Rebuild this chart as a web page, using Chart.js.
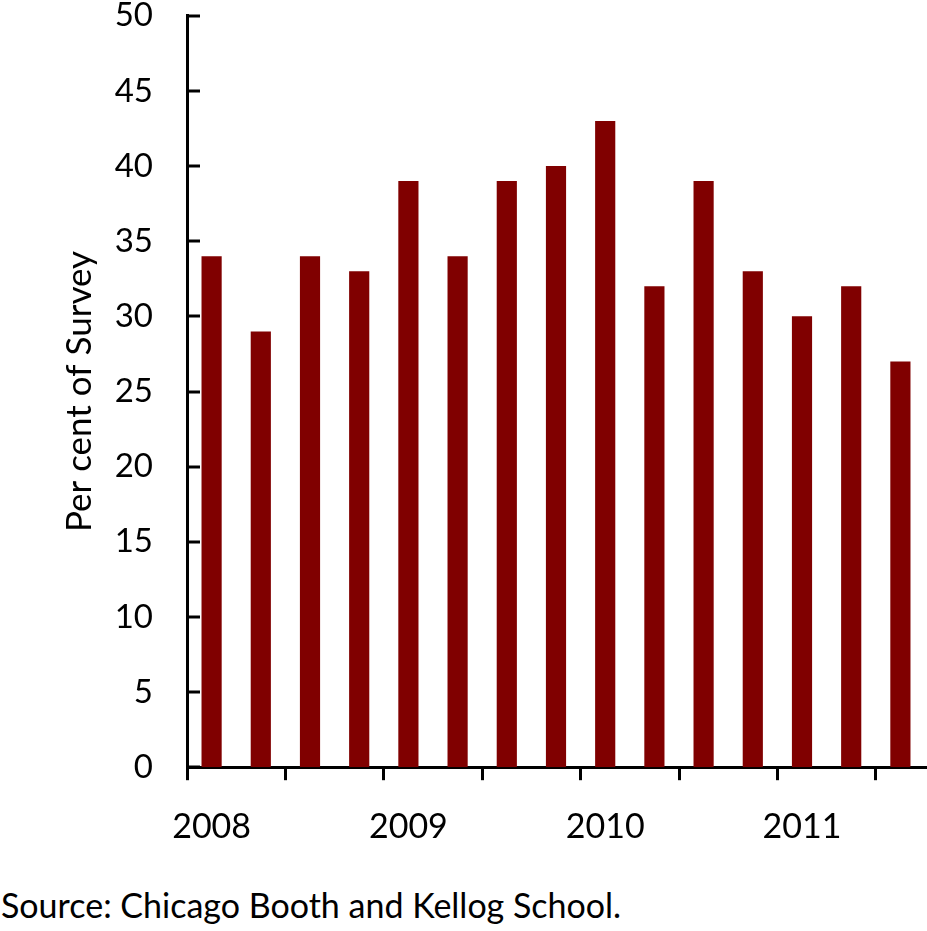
<!DOCTYPE html>
<html>
<head>
<meta charset="utf-8">
<script src="https://cdn.jsdelivr.net/npm/chart.js@4"></script>
<style>
  html, body { margin: 0; padding: 0; background: #fff; overflow: hidden; }
  #wrap { position: relative; width: 927px; height: 931px; overflow: hidden; }
  #chart { position: absolute; left: 0; top: -30px; }
  .source { position: absolute; left: 1px; top: 884px; font: 34px Lato, "DejaVu Sans", sans-serif; color: #000; white-space: nowrap; }
</style>
</head>
<body>
<div id="wrap">
  <canvas id="chart" width="927" height="903"></canvas>
  <div class="source">Source: Chicago Booth and Kellog School.</div>
</div>
<script>
const quarters = ["2008 Q1","2008 Q2","2008 Q3","2008 Q4",
                  "2009 Q1","2009 Q2","2009 Q3","2009 Q4",
                  "2010 Q1","2010 Q2","2010 Q3","2010 Q4",
                  "2011 Q1","2011 Q2","2011 Q3"]
const percentOfSurvey = [34, 29, 34, 33, 39, 34, 39, 40, 43, 32, 39, 33, 30, 32, 27]
const yTicks = [0, 5, 10, 15, 20, 25, 30, 35, 40, 45, 50]

const fontFamily = 'Lato, "DejaVu Sans", sans-serif'

// short tick marks pointing into the plot from the y axis
const innerTicks = {
    id: 'innerTicks',
    afterDraw(chart) {
        const ctx = chart.ctx
        const y = chart.scales.y
        ctx.save()
        ctx.strokeStyle = '#000'
        ctx.lineWidth = 3
        yTicks.forEach(v => {
            const py = Math.round(y.getPixelForValue(v))
            ctx.beginPath()
            ctx.moveTo(y.right, py)
            ctx.lineTo(y.right + 13, py)
            ctx.stroke()
        })
        ctx.restore()
    }
}

const ctx = document.getElementById('chart').getContext('2d')
new Chart(ctx, {
    type: 'bar',
    data: {
        labels: quarters,
        datasets: [{
            data: percentOfSurvey,
            backgroundColor: '#800000',
            categoryPercentage: 1,
            barPercentage: 0.41
        }]
    },
    options: {
        responsive: false,
        animation: false,
        layout: { padding: { top: -5, right: 2, left: 0, bottom: 0 } },
        plugins: {
            legend: { display: false },
            tooltip: { enabled: false }
        },
        scales: {
            x: {
                grid: {
                    display: true,
                    drawOnChartArea: false,
                    drawTicks: true,
                    tickLength: 13,
                    lineWidth: 3,
                    color: c => (c.index % 2 === 0 && c.index < quarters.length) ? '#000' : 'rgba(0,0,0,0)'
                },
                border: { display: true, color: '#000', width: 3 },
                ticks: {
                    autoSkip: false,
                    maxRotation: 0,
                    padding: 26,
                    color: '#000',
                    font: { family: fontFamily, size: 34 },
                    callback: function (val, i) {
                        const q = quarters[i]
                        return q.endsWith('Q1') ? q.slice(0, 4) : ''
                    }
                }
            },
            y: {
                min: 0,
                max: 50,
                grid: { display: false },
                border: { display: true, color: '#000', width: 3 },
                title: {
                    display: true,
                    text: 'Per cent of Survey',
                    color: '#000',
                    font: { family: fontFamily, size: 35 },
                    padding: { top: 59, bottom: 0 }
                },
                ticks: {
                    stepSize: 5,
                    padding: 26,
                    color: '#000',
                    font: { family: fontFamily, size: 33 }
                },
                afterFit(scale) { scale.width = 187 }
            }
        }
    },
    plugins: [innerTicks]
})
</script>
</body>
</html>
